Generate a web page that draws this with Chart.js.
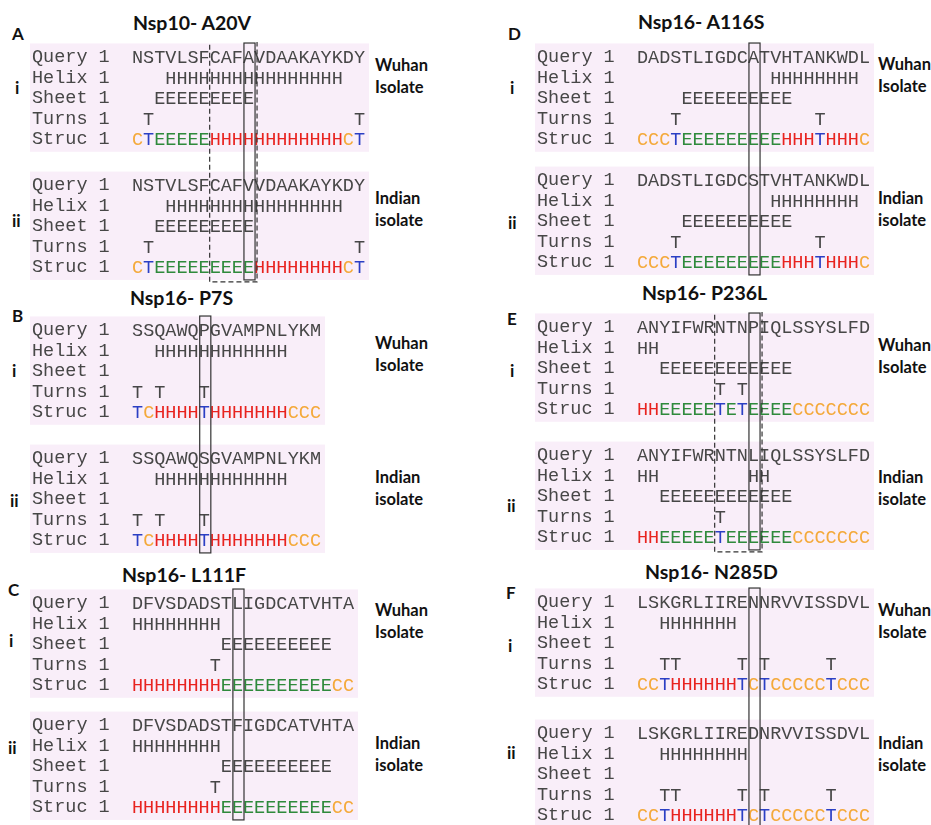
<!DOCTYPE html>
<html><head><meta charset="utf-8">
<script src="https://cdn.jsdelivr.net/npm/chart.js@4.4.0/dist/chart.umd.min.js"></script>
<style>
html,body{margin:0;padding:0;background:#fff;}
#wrap{position:relative;width:931px;height:825px;overflow:hidden;background:#fff;}
canvas.pc{position:absolute;}
.lbl{position:absolute;font-family:Lato,'Open Sans',sans-serif;font-weight:700;color:#111;white-space:nowrap;line-height:1;transform:translateY(-50%);}
</style></head><body><div id="wrap"></div>
<script>
// ---------------- data ----------------
const panelLetters = ['A','B','C','D','E','F'];
const panelTitles = ['Nsp10- A20V','Nsp16- P7S','Nsp16- L111F','Nsp16- A116S','Nsp16- P236L','Nsp16- N285D'];
const rowLabels = ['Query 1','Helix 1','Sheet 1','Turns 1','Struc 1'];
const blockLabels = ['i','ii'];
const isolateLabels = [['Wuhan','Isolate'],['Indian','isolate']];

const queryWuhan  = ['NSTVLSFCAFAVDAAKAYKDY','SSQAWQPGVAMPNLYKM','DFVSDADSTLIGDCATVHTA','DADSTLIGDCATVHTANKWDL','ANYIFWRNTNPIQLSSYSLFD','LSKGRLIIRENNRVVISSDVL'];
const queryIndian = ['NSTVLSFCAFVVDAAKAYKDY','SSQAWQSGVAMPNLYKM','DFVSDADSTFIGDCATVHTA','DADSTLIGDCSTVHTANKWDL','ANYIFWRNTNLIQLSSYSLFD','LSKGRLIIREDNRVVISSDVL'];
const helixWuhan  = ['   HHHHHHHHHHHHHHHH','  HHHHHHHHHHHH','HHHHHHHH','            HHHHHHHH','HH','  HHHHHHH'];
const helixIndian = ['   HHHHHHHHHHHHHHHH','  HHHHHHHHHHHH','HHHHHHHH','            HHHHHHHH','HH        HH','  HHHHHHHH'];
const sheetWuhan  = ['  EEEEEEEEE','','        EEEEEEEEEE','    EEEEEEEEEE','  EEEEEEEEEEEE',''];
const sheetIndian = ['  EEEEEEEEE','','        EEEEEEEEEE','    EEEEEEEEEE','  EEEEEEEEEEEE',''];
const turnsWuhan  = [' T                  T','T T   T','       T','   T            T','       T T','  TT     T T     T'];
const turnsIndian = [' T                  T','T T   T','       T','   T            T','       T','  TT     T T     T'];
const strucWuhan  = ['CTEEEEEHHHHHHHHHHHHCT','TCHHHHTHHHHHHHCCC','HHHHHHHHEEEEEEEEEECC','CCCTEEEEEEEEEHHHTHHHC','HHEEEEETETEEEECCCCCCC','CCTHHHHHHTCTCCCCCTCCC'];
const strucIndian = ['CTEEEEEEEEEHHHHHHHHCT','TCHHHHTHHHHHHHCCC','HHHHHHHHEEEEEEEEEECC','CCCTEEEEEEEEEHHHTHHHC','HHEEEEETEEEEEECCCCCCC','CCTHHHHHHTCTCCCCCTCCC'];
const mutationCol = [10, 6, 9, 10, 10, 10];
const regionCols  = [[7,10], null, null, null, [7,10], null];

// ---------------- style / layout ----------------
const STEP = 20.5, CHARW = 11.1, PADL = 3, LABW = 100, PADR = 6;
const monoFont = "18.5px 'Courier New','Nimbus Mono PS','FreeMono','Liberation Mono',monospace";
const structColors = {H:'#e8231f', E:'#2f8a3c', T:'#2b3fc4', C:'#f4a93a'};
const plainColor = '#474747';
const pink = '#f9eef9';
const layout = [
 {seqX:132, qy:57,  gap:128, title:[133,23],  letter:[12,33],  blk:[[15,87],[12,220]],  iso:[[375,65],[375,198]]},
 {seqX:132, qy:330, gap:128, title:[130,298], letter:[12,315], blk:[[12,370],[10,500]], iso:[[375,343],[375,477]]},
 {seqX:132, qy:603, gap:122, title:[122,575], letter:[8,589],  blk:[[9,640],[8,747]],   iso:[[375,610],[375,743]]},
 {seqX:637, qy:57,  gap:123, title:[638,22],  letter:[508,33], blk:[[510,87],[508,222]], iso:[[878,64],[878,198]]},
 {seqX:637, qy:327, gap:128, title:[642,293], letter:[507,318],blk:[[510,370],[507,505]],iso:[[878,345],[878,477]]},
 {seqX:637, qy:602, gap:131, title:[645,572], letter:[506,592],blk:[[508,645],[507,752]],iso:[[878,610],[878,743]]}
];

const wrap = document.getElementById('wrap');
function addLabel(text, x, cy, size){
  const d = document.createElement('div');
  d.className = 'lbl'; d.textContent = text;
  d.style.left = x + 'px'; d.style.top = cy + 'px'; d.style.fontSize = size + 'px';
  wrap.appendChild(d);
}

const seqPlugin = {
  id: 'seqPlugin',
  beforeDraw(chart){
    const o = chart.options.plugins.seqPlugin;
    const {ctx, chartArea} = chart; const y = chart.scales.y;
    ctx.save(); ctx.fillStyle = pink;
    o.blockOffsets.forEach(off => {
      const t = y.getPixelForValue(off - 0.68), b = y.getPixelForValue(off + 4.6);
      ctx.fillRect(chartArea.left - LABW - 2, t, chartArea.right - chartArea.left + LABW + 6, b - t);
    });
    ctx.restore();
  },
  afterDatasetsDraw(chart){
    const o = chart.options.plugins.seqPlugin;
    const {ctx} = chart; const x = chart.scales.x, y = chart.scales.y;
    ctx.save();
    ctx.font = monoFont; ctx.textAlign = 'center'; ctx.textBaseline = 'middle';
    chart.data.datasets.forEach((ds, i) => {
      const meta = chart.getDatasetMeta(i);
      meta.data.forEach((el, j) => {
        const ch = ds.data[j].ch;
        ctx.fillStyle = ds.rowKind === 4 ? structColors[ch] : plainColor;
        ctx.fillText(ch, el.x, el.y + 1);
      });
    });
    const top = o.blockOffsets[0], bot = o.blockOffsets[1] + 4;
    // dashed region box
    if (o.region){
      const l = x.getPixelForValue(o.region[0] - 0.5), r = x.getPixelForValue(o.region[1] + 0.5) + 3;
      const t = y.getPixelForValue(top - 0.8), b = y.getPixelForValue(bot + 0.7);
      ctx.setLineDash([5,3]); ctx.strokeStyle = '#333'; ctx.lineWidth = 1.2;
      ctx.strokeRect(l, t, r - l, b - t);
    }
    const l = x.getPixelForValue(o.mut - 0.5) + 1, r = x.getPixelForValue(o.mut + 0.5) + 1;
    const t = y.getPixelForValue(top - 0.7), b = y.getPixelForValue(bot + 0.6);
    ctx.setLineDash([]); ctx.strokeStyle = '#333'; ctx.lineWidth = 1.2;
    ctx.strokeRect(l, t, r - l, b - t);
    ctx.restore();
  }
};

for (let p = 0; p < 6; p++){
  const L = layout[p];
  const N = queryWuhan[p].length;
  const gapRows = L.gap / STEP;
  const offsets = [0, gapRows];
  const blocks = [
    [queryWuhan[p], helixWuhan[p], sheetWuhan[p], turnsWuhan[p], strucWuhan[p]],
    [queryIndian[p], helixIndian[p], sheetIndian[p], turnsIndian[p], strucIndian[p]]
  ];
  const datasets = [];
  const tickVals = [];
  blocks.forEach((rows, b) => {
    rows.forEach((str, r) => {
      const yv = offsets[b] + r;
      tickVals.push(yv);
      const data = [];
      for (let c = 0; c < str.length; c++) if (str[c] !== ' ') data.push({x: c, y: yv, ch: str[c]});
      datasets.push({label: blockLabels[b] + ' ' + rowLabels[r], data, rowKind: r, pointRadius: 0, pointHoverRadius: 0, showLine: false});
    });
  });
  const W = Math.round(PADL + LABW + N * CHARW + PADR);
  const H = Math.round(L.gap + 5.5 * STEP);
  const cv = document.createElement('canvas');
  cv.className = 'pc'; cv.width = W; cv.height = H;
  cv.style.left = (L.seqX - LABW - PADL) + 'px';
  cv.style.top = (L.qy - 0.75 * STEP) + 'px';
  cv.style.width = W + 'px'; cv.style.height = H + 'px';
  wrap.appendChild(cv);
  new Chart(cv, {
    type: 'scatter',
    data: {datasets},
    options: {
      responsive: false, animation: false, devicePixelRatio: 1,
      layout: {padding: {left: PADL, right: PADR, top: 0, bottom: 0}},
      plugins: {legend: {display: false}, tooltip: {enabled: false}, title: {display: false},
        seqPlugin: {blockOffsets: offsets, mut: mutationCol[p], region: regionCols[p]}},
      events: [],
      scales: {
        x: {type: 'linear', display: false, min: -0.5, max: N - 0.5},
        y: {type: 'linear', reverse: true, min: -0.75, max: gapRows + 4.75,
            grid: {display: false}, border: {display: false},
            afterBuildTicks: s => { s.ticks = tickVals.map(v => ({value: v})); },
            afterFit: s => { s.width = LABW; s.paddingTop = 0; s.paddingBottom = 0; },
            ticks: {autoSkip: false, padding: 0, crossAlign: 'far', color: plainColor,
              font: {family: "'Courier New','Nimbus Mono PS','FreeMono','Liberation Mono',monospace", size: 18.5},
              callback: (v, i) => rowLabels[i % 5]}}
      }
    },
    plugins: [seqPlugin]
  });
  addLabel(panelTitles[p], L.title[0], L.title[1], 19.5);
  addLabel(panelLetters[p], L.letter[0], L.letter[1], 17);
  L.blk.forEach((pos, b) => addLabel(blockLabels[b], pos[0], pos[1], 17));
  L.iso.forEach((pos, b) => { addLabel(isolateLabels[b][0], pos[0], pos[1], 16.5); addLabel(isolateLabels[b][1], pos[0], pos[1] + 22, 16.5); });
}
</script></body></html>
